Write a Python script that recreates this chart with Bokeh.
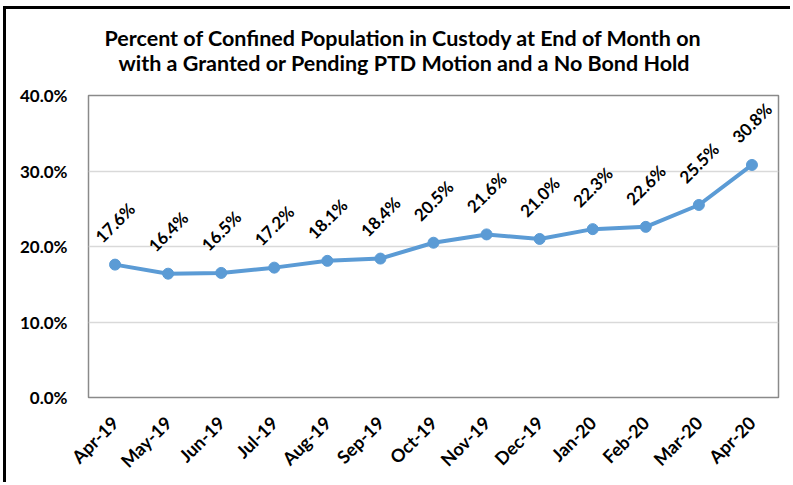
import math
from bokeh.plotting import figure
from bokeh.models import ColumnDataSource, FactorRange, Range1d, FixedTicker, PrintfTickFormatter, Title
from bokeh.core.properties import value
from bokeh.embed import file_html
from bokeh.resources import INLINE

months = ["Apr-19", "May-19", "Jun-19", "Jul-19", "Aug-19", "Sep-19", "Oct-19",
          "Nov-19", "Dec-19", "Jan-20", "Feb-20", "Mar-20", "Apr-20"]
pct = [17.6, 16.4, 16.5, 17.2, 18.1, 18.4, 20.5, 21.6, 21.0, 22.3, 22.6, 25.5, 30.8]
y_ticks = [0, 10, 20, 30, 40]
title_lines = ["Percent of Confined Population in Custody at End of Month on",
               "with a Granted or Pending PTD Motion and a No Bond Hold"]

FONT = "Lato"
BLUE = "#5B9BD5"

src = ColumnDataSource(dict(m=months, v=pct, lbl=[f"{v:.1f}%" for v in pct]))

W, H = 787, 476
p = figure(width=W, height=H, x_range=FactorRange(*months), y_range=Range1d(0, 40),
           output_backend="svg", toolbar_location=None,
           min_border_left=82, min_border_right=15, min_border_top=86, min_border_bottom=88)
p.styles = {"border-top": "3px solid black", "border-left": "3px solid black",
            "margin-top": "6px", "margin-left": "3px"}

p.outline_line_color = "#8a8a8a"
p.outline_line_width = 1.5
p.xgrid.grid_line_color = None
p.ygrid.grid_line_color = "#d9d9d9"
p.ygrid.grid_line_width = 1.5
p.ygrid.ticker = FixedTicker(ticks=y_ticks)

p.yaxis.ticker = FixedTicker(ticks=y_ticks)
p.yaxis.formatter = PrintfTickFormatter(format="%.1f%%")
for ax in (p.xaxis[0], p.yaxis[0]):
    ax.axis_line_color = None
    ax.major_tick_line_color = None
    ax.minor_tick_line_color = None
    ax.major_tick_out = 0
    ax.major_tick_in = 0
    ax.major_label_text_font = FONT
    ax.major_label_text_font_style = "bold"
    ax.major_label_text_color = "black"
p.yaxis.major_label_text_font_size = "17px"
p.xaxis.major_label_text_font_size = "18px"
p.yaxis.major_label_standoff = 21
p.xaxis.major_label_standoff = 22
p.xaxis.major_label_orientation = math.pi / 4

p.line("m", "v", source=src, line_color=BLUE, line_width=4)
p.scatter("m", "v", source=src, size=11, fill_color=BLUE, line_color=BLUE)
p.text("m", "v", text="lbl", source=src, angle=math.pi / 4, y_offset=-42,
       text_align="center", text_baseline="middle", text_font=value(FONT),
       text_font_style="bold", text_font_size="17px", text_color="black")

# titles: first added sits closest to the plot frame
for line, off, so in zip(reversed(title_lines), [30, 16], [40, -46]):
    p.add_layout(Title(text=line, align="left", offset=off, standoff=so, text_font=FONT,
                       text_font_style="bold", text_font_size="21.5px", text_color="black"),
                 "above")

open("out.html", "w").write(file_html(p, INLINE))
